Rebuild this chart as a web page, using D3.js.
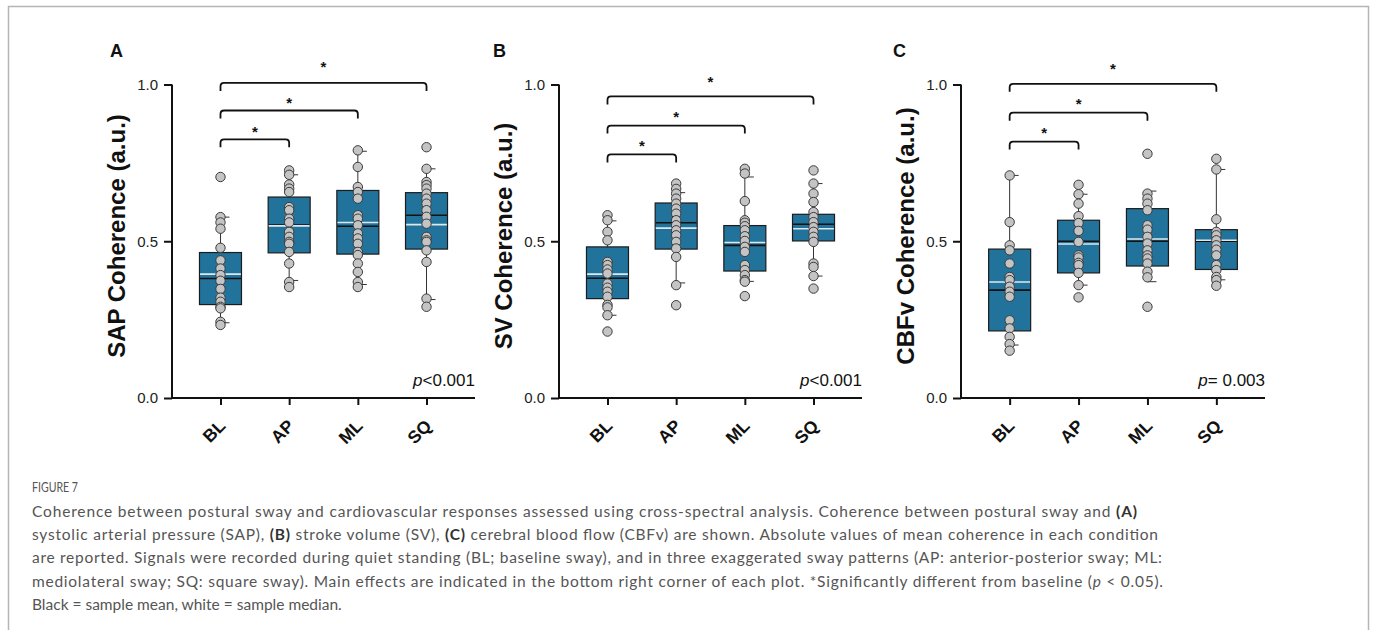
<!DOCTYPE html>
<html><head><meta charset="utf-8">
<script src="https://cdn.jsdelivr.net/npm/d3@7"></script>
<style>
body{margin:0;background:#fff;}
svg{display:block;}
</style></head>
<body>
<svg id="chart" width="1375" height="630"></svg>
<script>
// ---------------- DATA ----------------
const categories = ["BL", "AP", "ML", "SQ"];
const yTickValues = [0, 0.5, 1.0];
const panelLetters = ["A", "B", "C"];
const yLabels = ["SAP Coherence (a.u.)", "SV Coherence (a.u.)", "CBFv Coherence (a.u.)"];
const pItalic = ["p", "p", "p"];
const pRest = ["<0.001", "<0.001", "= 0.003"];

// individual coherence values (per condition)
const sapPoints = [
  [0.705,0.577,0.560,0.540,0.479,0.439,0.413,0.392,0.374,0.348,0.320,0.307,0.291,0.286,0.243,0.233],
  [0.726,0.712,0.681,0.668,0.657,0.609,0.599,0.572,0.560,0.530,0.514,0.498,0.492,0.466,0.429,0.370,0.354],
  [0.790,0.737,0.673,0.657,0.636,0.583,0.572,0.551,0.525,0.509,0.492,0.466,0.456,0.429,0.402,0.370,0.354],
  [0.800,0.731,0.689,0.679,0.668,0.652,0.636,0.620,0.599,0.578,0.556,0.514,0.503,0.498,0.471,0.434,0.317,0.291]
];
const svPoints = [
  [0.583,0.567,0.530,0.503,0.434,0.424,0.410,0.397,0.365,0.352,0.339,0.323,0.297,0.289,0.264,0.212],
  [0.684,0.667,0.652,0.636,0.620,0.604,0.588,0.567,0.551,0.535,0.519,0.498,0.477,0.450,0.360,0.296],
  [0.731,0.716,0.628,0.567,0.559,0.548,0.535,0.516,0.501,0.482,0.466,0.424,0.408,0.392,0.376,0.371,0.325],
  [0.726,0.684,0.652,0.625,0.593,0.577,0.561,0.545,0.530,0.514,0.498,0.429,0.418,0.389,0.349]
];
const cbfvPoints = [
  [0.710,0.561,0.487,0.471,0.429,0.386,0.376,0.355,0.339,0.323,0.248,0.222,0.195,0.172,0.151],
  [0.680,0.650,0.620,0.580,0.558,0.533,0.498,0.455,0.448,0.431,0.424,0.399,0.360,0.321],
  [0.779,0.652,0.636,0.620,0.599,0.551,0.537,0.514,0.493,0.471,0.455,0.445,0.429,0.403,0.385,0.291],
  [0.763,0.729,0.570,0.530,0.519,0.503,0.487,0.473,0.455,0.424,0.408,0.386,0.376,0.358]
];

// box statistics: [whisker low (10th), q1, median, mean, q3, whisker high (90th)]
const sapBoxes = [
  [0.240,0.298,0.395,0.381,0.464,0.577],
  [0.375,0.463,0.549,0.552,0.641,0.712],
  [0.362,0.459,0.560,0.548,0.662,0.787],
  [0.314,0.475,0.553,0.583,0.655,0.731]
];
const svBoxes = [
  [0.264,0.317,0.395,0.382,0.482,0.565],
  [0.367,0.475,0.542,0.559,0.622,0.655],
  [0.372,0.405,0.496,0.487,0.550,0.705],
  [0.389,0.501,0.540,0.554,0.586,0.684]
];
const cbfvBoxes = [
  [0.169,0.214,0.370,0.344,0.475,0.710],
  [0.360,0.399,0.491,0.500,0.567,0.650],
  [0.371,0.421,0.507,0.500,0.604,0.660],
  [0.377,0.410,0.503,0.500,0.537,0.729]
];

// significance brackets BL vs AP, ML, SQ (bracket level, star level)
const bracketTargets = ["AP", "ML", "SQ"];
const sapBrackets = [0.825, 0.917, 1.005];
const sapStars = [0.859, 0.951, 1.066];
const svBrackets = [0.777, 0.869, 0.962];
const svStars = [0.814, 0.909, 1.018];
const cbfvBrackets = [0.818, 0.910, 1.002];
const cbfvStars = [0.856, 0.949, 1.061];

const captionTitle = "FIGURE 7";

// ---------------- LAYOUT ----------------
const svg = d3.select("#chart");
const panels = [
  {x0: 172, x1: 475, points: sapPoints, boxes: sapBoxes, br: sapBrackets, st: sapStars, letterX: 110},
  {x0: 559, x1: 862, points: svPoints, boxes: svBoxes, br: svBrackets, st: svStars, letterX: 493},
  {x0: 961, x1: 1265, points: cbfvPoints, boxes: cbfvBoxes, br: cbfvBrackets, st: cbfvStars, letterX: 893}
];
const yBottom = 398, yTop = 84.5;
const boxColor = "#22739b";
const font = "'Liberation Sans', Arial, Helvetica, sans-serif";

// frame
svg.append("rect").attr("x", 8.5).attr("y", 6.5).attr("width", 1360).attr("height", 700)
  .attr("fill", "none").attr("stroke", "#b5b5b5").attr("stroke-width", 1.5);

panels.forEach((p, i) => {
  const g = svg.append("g");
  const y = d3.scaleLinear().domain([0, 1]).range([yBottom, yTop]);
  const x = d3.scalePoint().domain(categories).range([p.x0, p.x1]).padding(0.706);
  const half = 21;

  categories.forEach((c, k) => {
    const b = p.boxes[k];
    const cx = x(c);
    g.append("line").attr("x1", cx).attr("x2", cx).attr("y1", y(b[4])).attr("y2", y(b[5]))
      .attr("stroke", "#333").attr("stroke-width", 1);
    g.append("line").attr("x1", cx).attr("x2", cx).attr("y1", y(b[1])).attr("y2", y(b[0]))
      .attr("stroke", "#333").attr("stroke-width", 1);
    [b[0], b[5]].forEach(v => {
      g.append("line").attr("x1", cx).attr("x2", cx + 9).attr("y1", y(v)).attr("y2", y(v))
        .attr("stroke", "#333").attr("stroke-width", 1);
    });
    g.append("rect").attr("x", cx - half).attr("width", half * 2)
      .attr("y", y(b[4])).attr("height", y(b[1]) - y(b[4]))
      .attr("fill", boxColor).attr("stroke", "#1c1c1c").attr("stroke-width", 1.2);
    g.append("line").attr("x1", cx - half + 0.6).attr("x2", cx + half - 0.6)
      .attr("y1", y(b[3])).attr("y2", y(b[3])).attr("stroke", "#111").attr("stroke-width", 1.6);
    g.append("line").attr("x1", cx - half + 0.6).attr("x2", cx + half - 0.6)
      .attr("y1", y(b[2])).attr("y2", y(b[2])).attr("stroke", "#dce8ee").attr("stroke-width", 1.6);
  });

  categories.forEach((c, k) => {
    g.selectAll(null).data(p.points[k]).enter().append("circle")
      .attr("cx", x(c)).attr("cy", d => y(d)).attr("r", 4.7)
      .attr("fill", "#c4c4c4").attr("stroke", "#3a3a3a").attr("stroke-width", 1);
  });

  const yAxis = d3.axisLeft(y).tickValues(yTickValues).tickFormat(d3.format(".1f")).tickSize(8).tickPadding(6);
  const ya = g.append("g").attr("transform", `translate(${p.x0},0)`).call(yAxis);
  ya.select(".domain").attr("d", `M0,${yBottom}V${yTop}`).attr("stroke", "#111").attr("stroke-width", 2);
  ya.selectAll(".tick line").attr("stroke", "#111").attr("stroke-width", 2);
  ya.selectAll(".tick text").attr("font-family", font).attr("font-size", 15).attr("fill", "#222");

  const xAxis = d3.axisBottom(x).tickSize(7).tickFormat("");
  const xa = g.append("g").attr("transform", `translate(0,${yBottom})`).call(xAxis);
  xa.select(".domain").attr("d", `M${p.x0},0H${p.x1}`).attr("stroke", "#111").attr("stroke-width", 2);
  xa.selectAll(".tick line").attr("stroke", "#111").attr("stroke-width", 2);

  g.selectAll(null).data(categories).enter().append("text")
    .attr("transform", d => `translate(${x(d) + 6},${yBottom + 29}) rotate(-45)`)
    .attr("text-anchor", "end").attr("font-family", font).attr("font-weight", "bold")
    .attr("font-size", 17.5).attr("fill", "#111").text(d => d);

  g.append("text").attr("transform", `translate(${p.x0 - 47},${236}) rotate(-90)`)
    .attr("text-anchor", "middle").attr("font-family", font).attr("font-weight", "bold")
    .attr("font-size", 24).attr("fill", "#111").text(yLabels[i]);

  g.append("text").attr("x", p.letterX).attr("y", 57).attr("font-family", font)
    .attr("font-weight", "bold").attr("font-size", 18).attr("fill", "#111").text(panelLetters[i]);

  const pt = g.append("text").attr("x", p.x1).attr("y", 386).attr("text-anchor", "end")
    .attr("font-family", font).attr("font-size", 17).attr("fill", "#111");
  pt.append("tspan").attr("font-style", "italic").text(pItalic[i]);
  pt.append("tspan").text(pRest[i]);

  bracketTargets.forEach((t, k) => {
    const xa1 = x("BL"), xa2 = x(t), yb = y(p.br[k]), r = 3.5, drop = 8;
    g.append("path")
      .attr("d", `M${xa1},${yb + drop}V${yb + r}Q${xa1},${yb} ${xa1 + r},${yb}H${xa2 - r}Q${xa2},${yb} ${xa2},${yb + r}V${yb + drop}`)
      .attr("fill", "none").attr("stroke", "#111").attr("stroke-width", 1.8);
    g.append("text").attr("x", (xa1 + xa2) / 2).attr("y", y(p.st[k]) + 8.5)
      .attr("text-anchor", "middle").attr("font-family", font).attr("font-weight", "bold")
      .attr("font-size", 15).attr("fill", "#111").text("*");
  });
});

// ---------------- CAPTION ----------------
const capFont = "Lato, 'Open Sans', sans-serif";
const capColor = "#555";
svg.append("text").attr("x", 32).attr("y", 492).attr("font-family", capFont)
  .attr("font-size", 14).attr("fill", capColor).attr("textLength", 46)
  .attr("lengthAdjust", "spacingAndGlyphs").text(captionTitle);

const captionLines = [
  {end: 1137, parts: [["Coherence between postural sway and cardiovascular responses assessed using cross-spectral analysis. Coherence between postural sway and ", ""], ["(A)", "b"]]},
  {end: 1158, parts: [["systolic arterial pressure (SAP), ", ""], ["(B)", "b"], [" stroke volume (SV), ", ""], ["(C)", "b"], [" cerebral blood flow (CBFv) are shown. Absolute values of mean coherence in each condition", ""]]},
  {end: 1162, parts: [["are reported. Signals were recorded during quiet standing (BL; baseline sway), and in three exaggerated sway patterns (AP: anterior-posterior sway; ML:", ""]]},
  {end: 1163, parts: [["mediolateral sway; SQ: square sway). Main effects are indicated in the bottom right corner of each plot. *Significantly different from baseline (", ""], ["p", "i"], [" < 0.05).", ""]]},
  {end: null, parts: [["Black = sample mean, white = sample median.", ""]]}
];
captionLines.forEach((ln, i) => {
  const t = svg.append("text").attr("x", 32).attr("y", 517 + i * 23.2)
    .attr("font-family", capFont).attr("font-size", 15.5).attr("fill", capColor);
  if (ln.end) t.attr("textLength", ln.end - 32).attr("lengthAdjust", "spacing");
  ln.parts.forEach(pp => {
    const s = t.append("tspan").text(pp[0]);
    if (pp[1] === "b") s.attr("font-weight", "bold").attr("fill", "#333");
    if (pp[1] === "i") s.attr("font-style", "italic");
  });
});
</script>
</body></html>
